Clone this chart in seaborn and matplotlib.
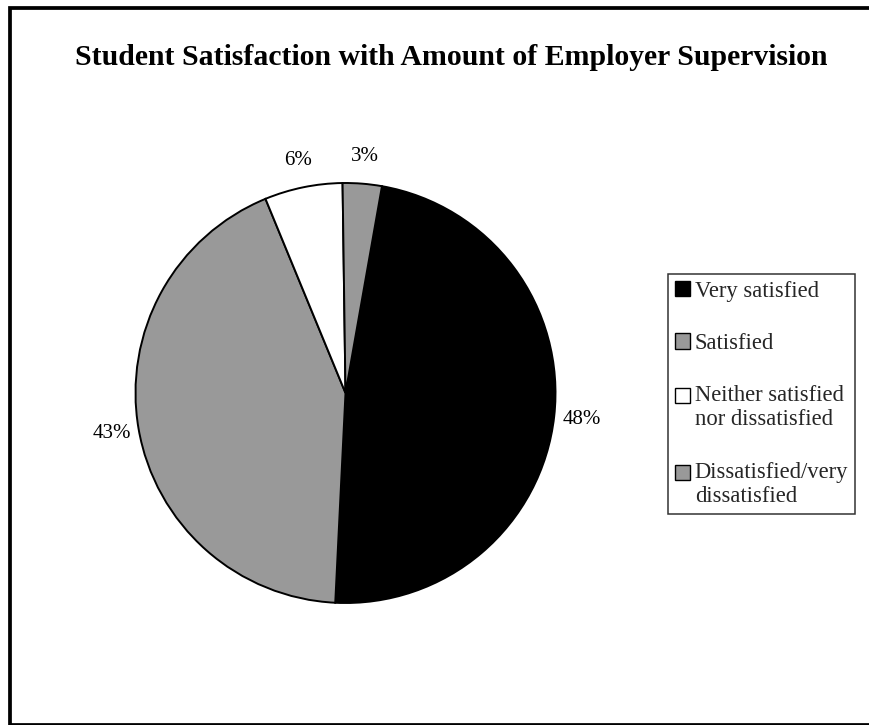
import matplotlib
matplotlib.use("Agg")
import matplotlib.pyplot as plt
import seaborn as sns
from matplotlib.patches import Rectangle, Patch
from matplotlib.legend_handler import HandlerPatch

# ---- data ----
categories = ["Very satisfied", "Satisfied", "Neither satisfied\nnor dissatisfied",
              "Dissatisfied/very\ndissatisfied"]
shares = [48, 43, 6, 3]
title = "Student Satisfaction with Amount of Employer Supervision"

# ---- style ----
colors = ["#000000", "#999999", "#ffffff", "#999999"]
sns.set_theme(style="white")
plt.rcParams["font.family"] = ["Liberation Serif", "DejaVu Serif"]

W, H, DPI = 870, 725, 100
fig = plt.figure(figsize=(W / DPI, H / DPI), dpi=DPI)
fig.patch.set_facecolor("white")

# pie axes: centre (345.5, 393) px, radius 210 px
cx, cy, r = 345.5, 393, 210
ax = fig.add_axes([(cx - r) / W, (H - cy - r) / H, 2 * r / W, 2 * r / H])
ax.pie(shares, colors=colors, startangle=80,
       counterclock=False, radius=1.0,
       autopct=lambda p: f"{p:.0f}%", pctdistance=1.13,
       wedgeprops=dict(edgecolor="black", linewidth=1.4),
       textprops=dict(fontsize=15, color="black"))
ax.set_xlim(-1, 1)
ax.set_ylim(-1, 1)
ax.set_aspect("equal")
ax.axis("off")

# title
fig.text(451.5 / W, 1 - 57.5 / H, title, ha="center", va="center",
         fontsize=21.4, fontweight="bold", color="black")


# legend: markers aligned with the first line of each label
def first_line_handler(n_lines):
    def patch_func(legend, orig_handle, xdescent, ydescent, width, height, fontsize):
        shift = 0.5 * (n_lines - 1) * 1.08 * fontsize
        return Rectangle((-xdescent, -ydescent + shift), width, height)
    return HandlerPatch(patch_func=patch_func)


handles = [Patch(facecolor=c, edgecolor="black", linewidth=1.0) for c in colors]
hmap = {h: first_line_handler(lab.count("\n") + 1) for h, lab in zip(handles, categories)}
leg = fig.legend(handles, categories, loc="upper left",
                 bbox_to_anchor=(668 / W, 1 - 274 / H),
                 bbox_transform=fig.transFigure, handler_map=hmap,
                 fontsize=16.3, frameon=True, fancybox=False, shadow=False,
                 borderpad=0.3, labelspacing=1.38, handlelength=0.66,
                 handleheight=0.66, handletextpad=0.22, borderaxespad=0)
leg.get_frame().set_edgecolor("black")
leg.get_frame().set_linewidth(1.1)
for t in leg.get_texts():
    t.set_linespacing(1.2)

# outer chart frame (right side lies beyond the image edge)
fig.add_artist(Rectangle((10.5 / W, 0.5 / H), (W + 20) / W, (H - 8 - 0.5) / H,
                         transform=fig.transFigure, fill=False,
                         edgecolor="black", linewidth=2.7, clip_on=False))

fig.savefig("out.png", dpi=DPI)
